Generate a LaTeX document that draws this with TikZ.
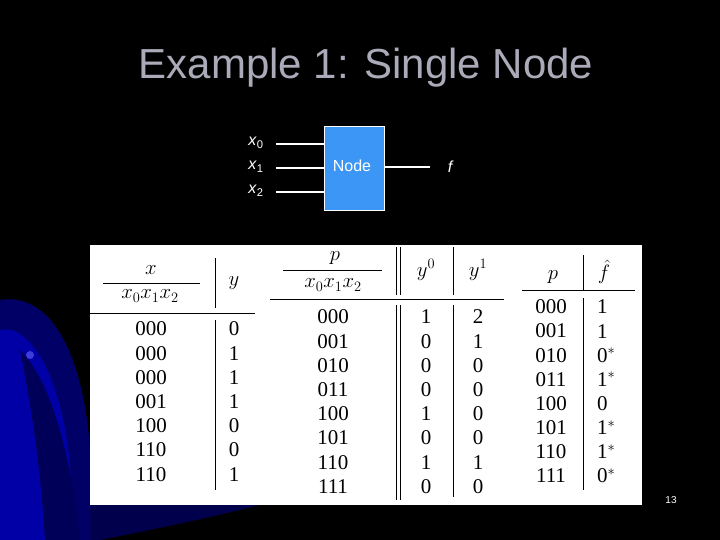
\documentclass[tikz,border=0pt]{standalone}
\usepackage{fontspec}
\setmainfont{Liberation Serif}
\newfontfamily\sans{Liberation Sans}
\begin{document}
\begin{tikzpicture}[x=1pt,y=-1pt,
  wire/.style={white,line width=2.4pt},
  cell/.style={inner sep=0pt,font=\fontsize{21}{21}\selectfont},
  rule/.style={black,line width=0.8pt}]
\fill[black] (0,0) rectangle (720,540);
\useasboundingbox (0,0) rectangle (720,540);
% blue swirl background
\begin{scope}
\clip (0,0) rectangle (720,540);
\fill[blue!40!black] (0,300) .. controls (60,290) and (100,380) .. (90,540) -- (0,540) -- cycle;
\fill[blue!65!black] (0,330) .. controls (40,320) and (80,420) .. (70,540) -- (0,540) -- cycle;
\fill[blue!35!black] (20,350) .. controls (50,380) and (70,450) .. (80,540) -- (45,540) .. controls (40,460) and (30,400) .. (20,350);
\fill[blue!60!white,opacity=0.6] (30,355) circle (4);
\fill[blue!30!black] (90,505) -- (260,505) .. controls (200,520) and (150,530) .. (100,540) -- (90,540) -- cycle;
\end{scope}
% title
\node[text={rgb,255:red,170;green,170;blue,185},font=\sans\fontsize{42}{42}\selectfont] (title) at (366,68) {Example 1: Single Node};
% node diagram
\node[draw=white,fill={rgb,255:red,60;green,150;blue,245},minimum width=60,minimum height=84,inner sep=0pt,anchor=north west,line width=0.8pt] (nd) at (324,126) {};
\node[white,font=\sans\fontsize{16}{16}\selectfont] at (352,166) {Node};
\coordinate (i0) at (276,144); \coordinate (i1) at (276,168); \coordinate (i2) at (276,192);
\draw[wire] (i0) -- (i0 -| nd.west);
\draw[wire] (i1) -- (i1 -| nd.west);
\draw[wire] (i2) -- (i2 -| nd.west);
\coordinate (o) at (430,167);
\draw[wire] (o -| nd.east) -- (o);
\node[white,font=\sans\itshape\fontsize{16}{16}\selectfont] (f) at (450,167) {f};
\node[white,font=\sans\fontsize{16}{16}\selectfont] (lx0) at (256,143) {\textit{x}\textsubscript{0}};
\node[white,font=\sans\fontsize{16}{16}\selectfont] (lx1) at (256,167) {\textit{x}\textsubscript{1}};
\node[white,font=\sans\fontsize{16}{16}\selectfont] (lx2) at (256,191) {\textit{x}\textsubscript{2}};
% table panel
\fill[white] (90,245) rectangle (642,505);
% table 1
\node[cell] at (151,270) {$x$};
\draw[rule] (103,283) -- (200,283);
\node[cell] at (150,296) {$x_0x_1x_2$};
\node[cell] at (234,283) {$y$};
\draw[rule] (215,258) -- (215,308);
\draw[rule] (90,313) -- (255,313);
\draw[rule] (215,320) -- (215,490);
\foreach \a/\b [count=\i from 0] in {000/0,000/1,000/1,001/1,100/0,110/0,110/1}{
  \node[cell] at (151,329+24.2*\i) {\a};
  \node[cell] at (234,329+24.2*\i) {\b};}
% table 2
\node[cell] at (335,258) {$p$};
\draw[rule] (283,270) -- (382,270);
\node[cell] at (333,285) {$x_0x_1x_2$};
\node[cell] at (426,270) {$y^0$};
\node[cell] at (478,270) {$y^1$};
\draw[rule] (270,299) -- (504,299);
\foreach \xx in {396,400}{\draw[rule] (\xx,247) -- (\xx,295); \draw[rule] (\xx,305) -- (\xx,500);}
\draw[rule] (453,247) -- (453,295);
\draw[rule] (453,305) -- (453,497);
\foreach \a/\b/\c [count=\i from 0] in {000/1/2,001/0/1,010/0/0,011/0/0,100/1/0,101/0/0,110/1/1,111/0/0}{
  \node[cell] at (333,317+24.2*\i) {\a};
  \node[cell] at (426,317+24.2*\i) {\b};
  \node[cell] at (478,317+24.2*\i) {\c};}
% table 3
\node[cell] at (553,277) {$p$};
\node[cell] at (604,272) {$\hat f$};
\draw[rule] (583,255) -- (583,290);
\draw[rule] (522,290) -- (635,290);
\draw[rule] (583,298) -- (583,490);
\foreach \a/\b [count=\i from 0] in {000/1,001/1,010/0$^*$,011/1$^*$,100/0,101/1$^*$,110/1$^*$,111/0$^*$}{
  \node[cell] at (551,307+24.1*\i) {\a};
  \node[cell,anchor=west] at (597,307+24.1*\i) {\b};}
\node[white,font=\sans\fontsize{10}{10}\selectfont] (pg) at (671,500) {13};
\end{tikzpicture}
\end{document}
